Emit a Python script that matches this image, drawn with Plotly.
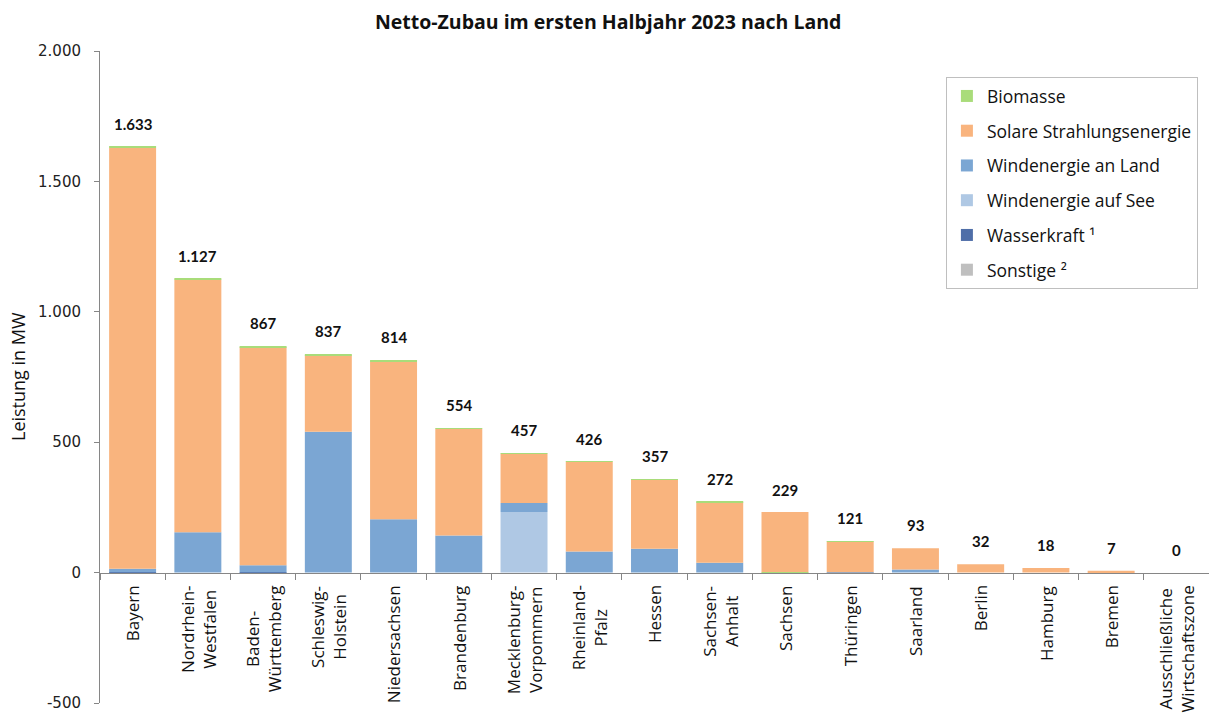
import plotly.graph_objects as go

# ---- data ----
categories = ["Bayern", "Nordrhein-Westfalen", "Baden-Württemberg", "Schleswig-Holstein",
              "Niedersachsen", "Brandenburg", "Mecklenburg-Vorpommern", "Rheinland-Pfalz",
              "Hessen", "Sachsen-Anhalt", "Sachsen", "Thüringen", "Saarland", "Berlin",
              "Hamburg", "Bremen", "Ausschließliche Wirtschaftszone"]
category_labels = ["Bayern", "Nordrhein-<br>Westfalen", "Baden-<br>Württemberg", "Schleswig-<br>Holstein",
                   "Niedersachsen", "Brandenburg", "Mecklenburg-<br>Vorpommern", "Rheinland-<br>Pfalz",
                   "Hessen", "Sachsen-<br>Anhalt", "Sachsen", "Thüringen", "Saarland", "Berlin",
                   "Hamburg", "Bremen", "Ausschließliche<br>Wirtschaftszone"]
totals = [1633, 1127, 867, 837, 814, 554, 457, 426, 357, 272, 229, 121, 93, 32, 18, 7, 0]

sonstige    = [0, 0, 0, 0, 0, 0, 0, 0, 0, 0, 0, 0, 0, 0, 0, 0, 0]
wasserkraft = [1, 0, 1, 0, 0, 0, 0, 0, 0, 0, 0, 0, 0, 0, 0, 0, 0]
wind_see    = [0, 0, 0, 0, 0, 0, 232, 0, 0, 0, 0, 0, 0, 0, 0, 0, 0]
wind_land   = [14, 155, 27, 540, 205, 142, 35, 81, 91, 38, 0, 1, 12, 0, 0, 0, 0]
solar       = [1614, 969, 836, 293, 604, 410, 189, 344, 265, 232, 232, 118, 81, 32, 18, 7, 0]
biomasse    = [4, 3, 3, 4, 5, 2, 1, 1, 1, 2, -3, 2, 0, 0, 0, 0, 0]

y_tickvals = [-500, 0, 500, 1000, 1500, 2000]
y_ticktext = ["-500", "0", "500", "1.000", "1.500", "2.000"]

# (name, values, colour, legend rank)
series = [
    ("Sonstige ²", sonstige, "#BFBFBF", 6),
    ("Wasserkraft ¹", wasserkraft, "#4F6EA8", 5),
    ("Windenergie auf See", wind_see, "#AFC8E4", 4),
    ("Windenergie an Land", wind_land, "#7BA6D3", 3),
    ("Solare Strahlungsenergie", solar, "#F9B47E", 2),
    ("Biomasse", biomasse, "#A9DC7A", 1),
]

TXT = "'Open Sans', Lato, sans-serif"
NUM = "Lato, 'Open Sans', sans-serif"

fig = go.Figure()
for name, vals, col, rank in series:
    fig.add_trace(go.Bar(
        x=categories, y=vals, name=name, legendgroup=name, legendrank=rank,
        marker=dict(color=col, line=dict(width=0)),
    ))

# total labels
for c, t in zip(categories, totals):
    fig.add_annotation(x=c, y=t, xref="x", yref="y", text=f"<b>{t:,}</b>".replace(",", "."),
                       showarrow=False, yanchor="bottom", yshift=12,
                       font=dict(family=NUM, size=15, color="#111"))

# category labels
for c, lab in zip(categories, category_labels):
    fig.add_annotation(x=c, y=0, xref="x", yref="y", text=lab, textangle=-90,
                       showarrow=False, yanchor="top", yshift=-11, align="center",
                       font=dict(family=TXT, size=17, color="#111"))

# y axis title
fig.add_annotation(x=0, y=0.5, xref="paper", yref="paper", text="Leistung in MW",
                   textangle=-90, showarrow=False, xanchor="center", yanchor="middle",
                   xshift=-82, font=dict(family=TXT, size=18, color="#111"))

fig.update_layout(
    width=1209, height=720,
    barmode="relative", bargap=0.28,
    plot_bgcolor="white", paper_bgcolor="white",
    margin=dict(l=100, r=0, t=51, b=17),
    separators=",.",
    title=dict(text="<b>Netto-Zubau im ersten Halbjahr 2023 nach Land</b>",
               x=0.503, xanchor="center", y=0.969, yanchor="middle",
               font=dict(family=TXT, size=19.5, color="#111")),
    legend=dict(x=0.99, y=0.96, xanchor="right", yanchor="top",
                traceorder="grouped", tracegroupgap=9,
                bordercolor="#BFBFBF", borderwidth=1, bgcolor="white",
                font=dict(family=TXT, size=17.5, color="#111")),
    showlegend=True,
)
fig.update_xaxes(type="category", range=[-0.5, 16.5], showline=True, linecolor="#868686",
                 ticks="outside", tickson="boundaries", ticklen=6, tickcolor="#868686",
                 showticklabels=False, showgrid=False, anchor="free", position=0.2)
fig.update_yaxes(range=[-500, 2000], tickvals=y_tickvals, ticktext=y_ticktext,
                 showline=True, linecolor="#868686", ticks="outside", ticklen=5,
                 tickcolor="#868686", showgrid=False, zeroline=False, ticklabelstandoff=10,
                 tickfont=dict(family="'DejaVu Sans', Verdana, sans-serif", size=15, color="#222"))

fig.write_html("out.html")
